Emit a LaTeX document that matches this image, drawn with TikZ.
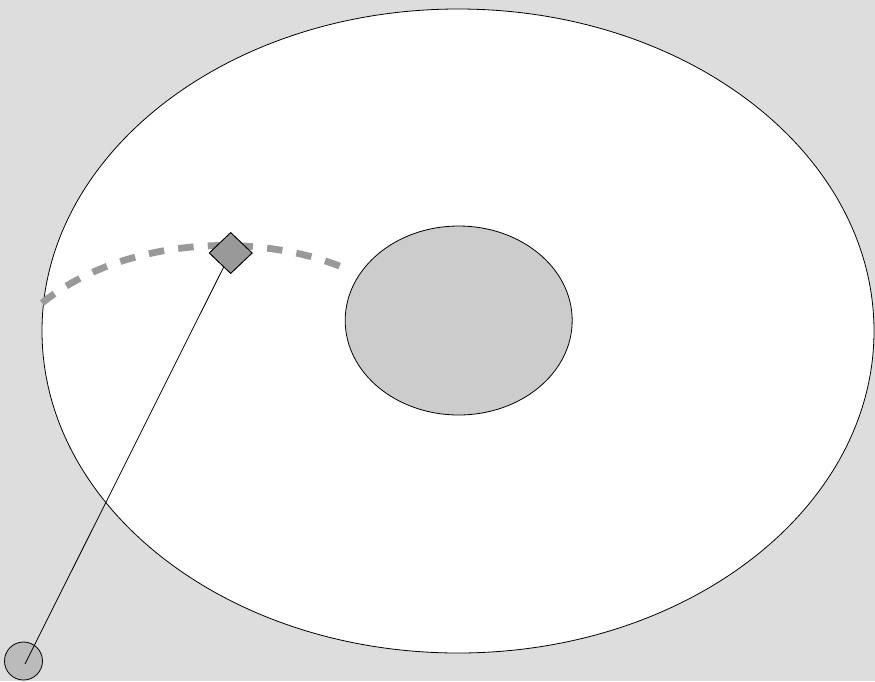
\documentclass[tikz,border=0pt]{standalone}
\usetikzlibrary{shapes.geometric}
\definecolor{bg}{HTML}{DDDDDD}
\definecolor{innerfill}{HTML}{CCCCCC}
\definecolor{dashcol}{HTML}{999999}
\definecolor{markfill}{HTML}{999999}
\definecolor{ballfill}{HTML}{BBBBBB}
\tikzset{
  outline/.style={draw=black, line width=0.8pt},
  disc/.style={ellipse, outline, inner sep=0pt},
  pathdash/.style={draw=dashcol, line width=6.8pt, dash pattern=on 15.5pt off 14.2pt},
  marker/.style={diamond, outline, fill=markfill, inner sep=0pt, minimum width=43pt, minimum height=41pt},
  ball/.style={circle, outline, fill=ballfill, inner sep=0pt, minimum size=38pt},
  tether/.style={draw=black, line width=0.8pt}
}
\begin{document}
\begin{tikzpicture}[x=1pt, y=-1pt]
  \fill[bg] (0,0) rectangle (875,681);
  \useasboundingbox (0,0) rectangle (875,681);
  \node[disc, fill=white, minimum width=832pt, minimum height=644pt] (outer) at (458,331) {};
  \node[disc, fill=innerfill, minimum width=227pt, minimum height=189pt] (inner) at (458.7,320.5) {};
  \coordinate (dstart) at (42,303);
  \coordinate (dend) at (342,267);
  \path[pathdash] (dstart) .. controls (120,240) and (250,230) .. (dend);
  \node[ball] (ball) at (23.5,661) {};
  \node[marker] (mark) at (230.7,253) {};
  \coordinate (tend) at (25,664);
  \draw[tether] (mark.center) -- (tend);
  \node[marker] at (mark.center) {};
\end{tikzpicture}
\end{document}
